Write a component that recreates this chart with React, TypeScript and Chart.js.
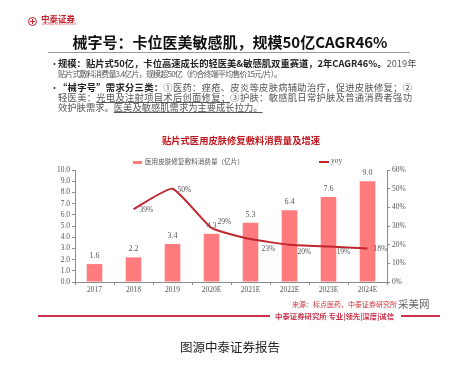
import React, { useEffect, useRef } from "react";
import { Chart, registerables } from "chart.js";

Chart.register(...registerables);

// ---- data ----
const categories = ["2017", "2018", "2019", "2020E", "2021E", "2022E", "2023E", "2024E"];
const consumption = [1.6, 2.2, 3.4, 4.3, 5.3, 6.4, 7.6, 9.0];
const yoy: (number | null)[] = [null, 39, 50, 29, 23, 20, 19, 18];
const barLegend = "医用皮肤修复敷料消费量（亿片）";
const lineLegend = "yoy";
const chartTitle = "贴片式医用皮肤修复敷料消费量及增速";

// ---- styles ----
const BAR = "#FF7B7E";
const LINE = "#C0262D";
const AXIS = "#8c8c8c";
const TXT = "#555";
const RED = "#C5202A";
const SERIF = '"Liberation Serif", "DejaVu Serif", serif';
const CJK = '"Noto Sans CJK SC", "Noto Sans", sans-serif';
// [dx, dy] placement of yoy labels relative to points
const yoyLabelOffsets = [
  [0, 0], [6, 1], [5, 1], [6, -6], [11, 10], [8, 7], [8, 5], [6, 1],
];

const valueLabels = {
  id: "valueLabels",
  afterDatasetsDraw(chart: any) {
    const ctx = chart.ctx;
    ctx.save();
    ctx.fillStyle = TXT;
    ctx.font = `8px ${SERIF}`;
    ctx.textAlign = "center";
    ctx.textBaseline = "bottom";
    chart.getDatasetMeta(0).data.forEach((el: any, i: number) => {
      ctx.fillText(consumption[i].toFixed(1), el.x, el.y - 4);
    });
    ctx.font = `7.5px ${SERIF}`;
    ctx.textAlign = "left";
    ctx.textBaseline = "middle";
    chart.getDatasetMeta(1).data.forEach((el: any, i: number) => {
      const v = yoy[i];
      if (v == null) return;
      const [dx, dy] = yoyLabelOffsets[i];
      ctx.fillText(`${v}%`, el.x + dx, el.y + dy);
    });
    ctx.restore();
  },
};

const Txt = ({ x, y, size, children, style }: any) => (
  <div
    style={{
      position: "absolute",
      left: x,
      top: y - size * 0.7,
      fontSize: size,
      lineHeight: `${size * 1.4}px`,
      whiteSpace: "nowrap",
      ...style,
    }}
  >
    {children}
  </div>
);

export default function App() {
  const ref = useRef<HTMLCanvasElement>(null);

  useEffect(() => {
    const tickFont = { family: SERIF, size: 7.5 };
    const chart = new Chart(ref.current!, {
      type: "bar",
      data: {
        labels: categories,
        datasets: [
          {
            type: "bar",
            label: barLegend,
            data: consumption,
            backgroundColor: BAR,
            yAxisID: "y",
            order: 1,
            barPercentage: 0.4,
            categoryPercentage: 1,
          } as any,
          {
            type: "line",
            label: lineLegend,
            data: yoy,
            borderColor: LINE,
            backgroundColor: LINE,
            borderWidth: 2,
            pointRadius: 0,
            tension: 0.15,
            fill: false,
            yAxisID: "y1",
            order: 0,
          } as any,
        ],
      },
      options: {
        responsive: false,
        animation: false,
        devicePixelRatio: 1,
        layout: { padding: { left: 40, right: 46, top: 170, bottom: 67 } },
        plugins: { legend: { display: false }, tooltip: { enabled: false }, title: { display: false } },
        scales: {
          x: {
            grid: { display: true, drawOnChartArea: false, tickLength: 3, color: AXIS },
            border: { color: AXIS },
            ticks: { font: tickFont, color: TXT, padding: 1, maxRotation: 0, autoSkip: false },
            afterFit: (s: any) => {
              s.height = 16;
            },
          },
          y: {
            position: "left",
            min: 0,
            max: 10,
            grid: { drawOnChartArea: false, tickLength: 3, color: AXIS },
            border: { color: AXIS },
            ticks: {
              stepSize: 1,
              autoSkip: false,
              font: tickFont,
              color: TXT,
              padding: 2,
              callback: (v: any) => Number(v).toFixed(1),
            },
            afterFit: (s: any) => {
              s.width = 35;
            },
          },
          y1: {
            position: "right",
            min: 0,
            max: 60,
            grid: { drawOnChartArea: false, tickLength: 3, color: AXIS },
            border: { color: AXIS },
            ticks: {
              stepSize: 10,
              autoSkip: false,
              font: tickFont,
              color: TXT,
              padding: 2,
              callback: (v: any) => `${v}%`,
            },
            afterFit: (s: any) => {
              s.width = 30;
            },
          },
        },
      } as any,
      plugins: [valueLabels],
    });
    return () => chart.destroy();
  }, []);

  const bold = { fontWeight: 700, color: "#222" };
  const norm = { color: "#555" };
  const ul = { textDecoration: "underline" };

  return (
    <div
      style={{
        position: "fixed",
        left: 0,
        top: 0,
        width: 463,
        height: 365,
        background: "#fff",
        overflow: "hidden",
        fontFamily: CJK,
      }}
    >
      <canvas ref={ref} width={463} height={365} style={{ position: "absolute", left: 0, top: 0, width: 463, height: 365 }} />

      {/* logo */}
      <div
        style={{
          position: "absolute",
          left: 27.5,
          top: 16.5,
          width: 9,
          height: 9,
          border: `1.5px solid ${RED}`,
          borderRadius: "50%",
          boxSizing: "border-box",
        }}
      />
      <div style={{ position: "absolute", left: 29.5, top: 20.5, width: 5, height: 1, background: RED }} />
      <div style={{ position: "absolute", left: 31.5, top: 18.5, width: 1, height: 5, background: RED }} />
      <Txt x={41} y={19} size={8.5} style={{ color: RED, fontWeight: 700 }}>中泰证券</Txt>
      <Txt x={42} y={24.5} size={3.2} style={{ color: RED }}>ZHONGTAI SECURITIES</Txt>

      {/* main title */}
      <div
        style={{
          position: "absolute",
          left: 0,
          width: 460,
          top: 31,
          fontSize: 15,
          lineHeight: "22px",
          textAlign: "center",
          fontWeight: 700,
          color: "#111",
          whiteSpace: "nowrap",
        }}
      >
        械字号：卡位医美敏感肌，规模50亿CAGR46%
      </div>
      <div style={{ position: "absolute", left: 48, top: 52, width: 362, height: 1, background: "#999" }} />

      {/* bullets */}
      <Txt x={50} y={64} size={9} style={{ color: "#333" }}>•</Txt>
      <Txt x={58} y={64} size={9.3} style={{ width: 354, textAlign: "justify", textAlignLast: "justify" }}>
        <span style={bold}>规模：贴片式50亿，卡位高速成长的轻医美&amp;敏感肌双重赛道，2年CAGR46%。</span>
        <span style={norm}>2019年</span>
      </Txt>
      <Txt x={58} y={74} size={8} style={{ ...norm, letterSpacing: -0.8 }}>
        贴片式敷料消费量3.4亿片，规模超50亿（约合终端平均售价15元/片）。
      </Txt>
      <Txt x={50} y={88} size={9} style={{ color: "#333" }}>•</Txt>
      <Txt x={58} y={88} size={9.3} style={{ width: 354, textAlign: "justify", textAlignLast: "justify" }}>
        <span style={bold}>“械字号”需求分三类：</span>
        <span style={norm}>①医药：痤疮、皮炎等皮肤病辅助治疗，促进皮肤修复；②</span>
      </Txt>
      <Txt x={58} y={98} size={9.3} style={{ ...norm, width: 354, textAlign: "justify", textAlignLast: "justify" }}>
        轻医美：<span style={ul}>光电及注射项目术后创面修复；</span>③护肤：敏感肌日常护肤及普通消费者强功
      </Txt>
      <Txt x={58} y={107.5} size={9.3} style={norm}>
        效护肤需求。<span style={ul}>医美及敏感肌需求为主要成长拉力。</span>
      </Txt>

      {/* chart title */}
      <div
        style={{
          position: "absolute",
          left: 141,
          width: 200,
          top: 140 - 7,
          fontSize: 9.3,
          lineHeight: "14px",
          textAlign: "center",
          fontWeight: 700,
          color: "#C0141C",
          whiteSpace: "nowrap",
        }}
      >
        {chartTitle}
      </div>

      {/* legend */}
      <div style={{ position: "absolute", left: 133, top: 160.5, width: 9, height: 3, background: BAR }} />
      <Txt x={145} y={162} size={6.6} style={{ color: TXT }}>{barLegend}</Txt>
      <div style={{ position: "absolute", left: 319, top: 161, width: 10, height: 2, background: LINE }} />
      <Txt x={331} y={161.5} size={7.5} style={{ color: TXT, fontFamily: SERIF }}>{lineLegend}</Txt>

      {/* source + watermark */}
      <Txt x={292} y={305} size={7} style={{ color: "#C8343C" }}>来源：标点医药，中泰证券研究所</Txt>
      <Txt x={398} y={304} size={10.5} style={{ color: "#666" }}>采美网</Txt>

      {/* footer */}
      <div style={{ position: "absolute", left: 38, top: 315, width: 232, height: 2, background: "#C8334B" }} />
      <Txt x={275} y={316} size={7.4} style={{ color: "#C8334B", fontWeight: 700 }}>中泰证券研究所 专业|领先|深度|诚信</Txt>
      <div style={{ position: "absolute", left: 401, top: 315, width: 39, height: 2, background: "#C8334B" }} />

      <Txt x={180} y={347} size={12.5} style={{ color: "#222" }}>图源中泰证券报告</Txt>
    </div>
  );
}
